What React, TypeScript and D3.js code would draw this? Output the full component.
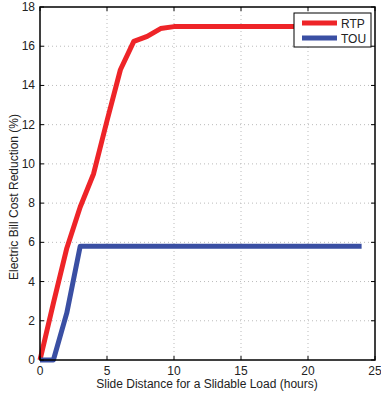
import React, { useRef, useEffect } from "react";
import * as d3 from "d3";

const hours = d3.range(0, 25);
const rtp = [0, 2.9, 5.7, 7.8, 9.5, 12.2, 14.8, 16.25, 16.5, 16.9, 17, 17, 17, 17, 17, 17, 17, 17, 17, 17, 17, 17, 17, 17, 17];
const tou = [0, 0, 2.4, 5.8, 5.8, 5.8, 5.8, 5.8, 5.8, 5.8, 5.8, 5.8, 5.8, 5.8, 5.8, 5.8, 5.8, 5.8, 5.8, 5.8, 5.8, 5.8, 5.8, 5.8, 5.8];
const xTicks = [0, 5, 10, 15, 20, 25];
const yTicks = [0, 2, 4, 6, 8, 10, 12, 14, 16, 18];
const seriesNames = ["RTP", "TOU"];
const colors = ["#ee2428", "#3a4fa3"];

function App() {
  const svgRef = useRef(null);

  useEffect(() => {
    const svg = d3.select(svgRef.current);
    svg.selectAll("*").remove();
    const left = 40, right = 375, top = 7, bottom = 360;
    const x = d3.scaleLinear().domain([0, 25]).range([left, right]);
    const y = d3.scaleLinear().domain([0, 18]).range([bottom, top]);
    const font = "Liberation Sans, Arial, sans-serif";

    svg.append("rect").attr("x", 0).attr("y", 0).attr("width", 381).attr("height", 397).attr("fill", "#fff");

    // grid
    const grid = svg.append("g").attr("stroke", "#bbb").attr("stroke-width", 1).attr("stroke-dasharray", "1,3");
    grid.selectAll(".gx").data(xTicks.slice(1, -1)).join("line")
      .attr("x1", (d) => x(d)).attr("x2", (d) => x(d)).attr("y1", top).attr("y2", bottom);
    grid.selectAll(".gy").data(yTicks.slice(1, -1)).join("line")
      .attr("y1", (d) => y(d)).attr("y2", (d) => y(d)).attr("x1", left).attr("x2", right);

    // lines
    const series = [rtp, tou];
    const line = d3.line<number>().x((d, i) => x(hours[i])).y((d) => y(d));
    svg.selectAll(".series").data(series).join("path")
      .attr("d", (d) => line(d))
      .attr("fill", "none")
      .attr("stroke", (d, i) => colors[i])
      .attr("stroke-width", 5)
      .attr("stroke-linejoin", "round");

    // box + ticks
    svg.append("rect").attr("x", left).attr("y", top).attr("width", right - left).attr("height", bottom - top)
      .attr("fill", "none").attr("stroke", "#000").attr("stroke-width", 1.5);
    const ticks = svg.append("g").attr("stroke", "#000").attr("stroke-width", 1);
    xTicks.forEach((t) => {
      ticks.append("line").attr("x1", x(t)).attr("x2", x(t)).attr("y1", bottom).attr("y2", bottom - 4);
      ticks.append("line").attr("x1", x(t)).attr("x2", x(t)).attr("y1", top).attr("y2", top + 4);
    });
    yTicks.forEach((t) => {
      ticks.append("line").attr("x1", left).attr("x2", left + 4).attr("y1", y(t)).attr("y2", y(t));
      ticks.append("line").attr("x1", right).attr("x2", right - 4).attr("y1", y(t)).attr("y2", y(t));
    });

    svg.selectAll(".xt").data(xTicks).join("text")
      .attr("x", (d) => x(d)).attr("y", bottom + 15)
      .attr("text-anchor", "middle").attr("font-family", font).attr("font-size", 12).attr("fill", "#222")
      .text((d) => d);
    svg.selectAll(".yt").data(yTicks).join("text")
      .attr("x", left - 5).attr("y", (d) => y(d) + 4)
      .attr("text-anchor", "end").attr("font-family", font).attr("font-size", 12).attr("fill", "#222")
      .text((d) => d);

    svg.append("text").attr("x", 207).attr("y", 388)
      .attr("text-anchor", "middle").attr("font-family", font).attr("font-size", 12).attr("fill", "#222")
      .text("Slide Distance for a Slidable Load (hours)");
    svg.append("text").attr("transform", `translate(18,197) rotate(-90)`)
      .attr("text-anchor", "middle").attr("font-family", font).attr("font-size", 12).attr("fill", "#222")
      .text("Electric Bill Cost Reduction (%)");

    // legend
    const lg = svg.append("g");
    lg.append("rect").attr("x", 294).attr("y", 13).attr("width", 77).attr("height", 34)
      .attr("fill", "#fff").attr("stroke", "#000").attr("stroke-width", 1);
    seriesNames.forEach((name, i) => {
      const ly = 23 + i * 15;
      lg.append("line").attr("x1", 302).attr("x2", 337).attr("y1", ly).attr("y2", ly)
        .attr("stroke", colors[i]).attr("stroke-width", 5);
      lg.append("text").attr("x", 341).attr("y", ly + 4.5).attr("font-family", font).attr("font-size", 12)
        .attr("fill", "#222").text(name);
    });
  }, []);

  return (
    <svg ref={svgRef} width={381} height={397} style={{ position: "absolute", left: 0, top: 0 }}></svg>
  );
}

export default App;
